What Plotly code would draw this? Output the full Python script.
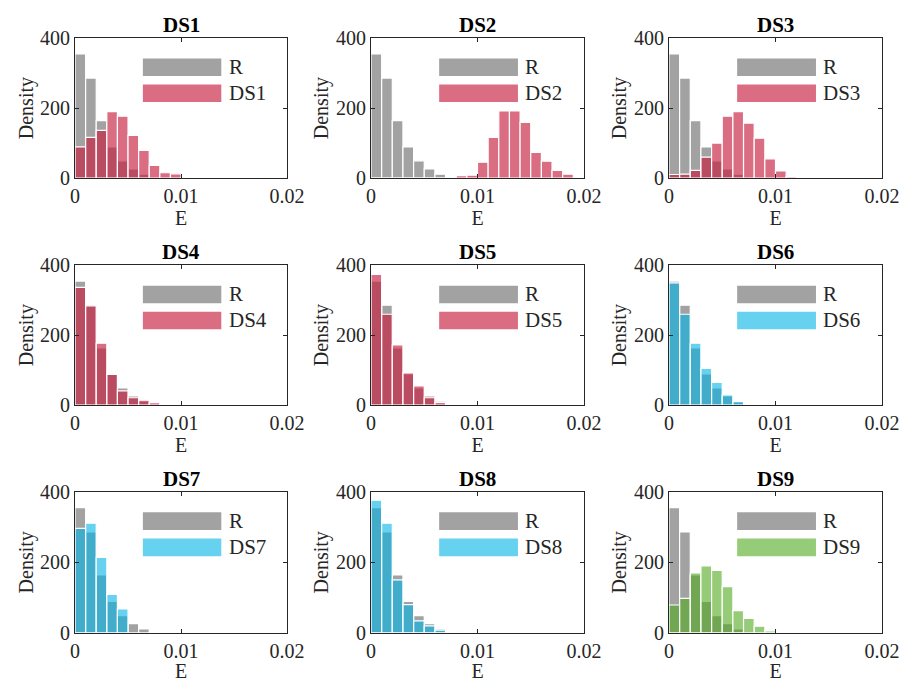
import numpy as np
import plotly.graph_objects as go

# ---------------- data ----------------
BIN_WIDTH = 0.001
R_density = [355, 286, 164, 89, 49, 26, 11, 2]
DS1 = [89, 116, 136, 190, 177, 122, 79, 36, 15, 12]
DS2 = [0, 0, 0, 0, 0, 0, 0, 0, 7, 8, 45, 116, 192, 192, 159, 73, 48, 22, 11]
DS3 = [10, 11, 22, 60, 100, 177, 190, 157, 114, 55, 20, 4]
DS4 = [337, 284, 177, 88, 41, 21, 14, 7, 3, 2]
DS5 = [374, 260, 172, 92, 55, 21, 7, 3, 2]
DS6 = [350, 260, 177, 105, 65, 29, 10]
DS7 = [296, 311, 214, 109, 68]
DS8 = [376, 311, 150, 80, 34, 20, 8, 1, 3]
DS9 = [79, 98, 170, 190, 177, 131, 63, 41, 19, 6]

names = ["DS1", "DS2", "DS3", "DS4", "DS5", "DS6", "DS7", "DS8", "DS9"]
series = [DS1, DS2, DS3, DS4, DS5, DS6, DS7, DS8, DS9]
x_ticks = [0, 0.01, 0.02]
x_ticktext = ["0", "0.01", "0.02"]
y_ticks = [0, 200, 400]
y_ticktext = ["0", "200", "400"]

# ---------------- styles ----------------
GRAY = "rgba(100,100,100,0.6)"
RED = "rgba(200,30,65,0.65)"
CYAN = "rgba(0,180,230,0.6)"
GREEN = "rgba(80,170,30,0.6)"
colors = [RED, RED, RED, RED, RED, CYAN, CYAN, CYAN, GREEN]
FONT = "Liberation Serif, Times New Roman, serif"
AXC = "#262626"

col_dom = [(0.0830, 0.3175), (0.4104, 0.6460), (0.7400, 0.9757)]
row_dom = [(0.739, 0.944), (0.406, 0.611), (0.072, 0.279)]

fig = go.Figure()
layout = dict(
    width=904, height=682,
    margin=dict(l=0, r=0, t=0, b=0, autoexpand=False),
    paper_bgcolor="white", plot_bgcolor="white",
    barmode="overlay", showlegend=False,
    font=dict(family=FONT, size=20, color=AXC),
)
shapes = []
annotations = []


def centers(vals):
    return [(i + 0.5) * BIN_WIDTH for i in range(len(vals))]


for k in range(9):
    r, c = divmod(k, 3)
    idx = "" if k == 0 else str(k + 1)
    xa, ya = "x" + idx, "y" + idx
    fig.add_trace(go.Bar(
        x=centers(R_density), y=R_density, width=BIN_WIDTH,
        marker=dict(color=GRAY, line=dict(color="white", width=1.2)),
        xaxis=xa, yaxis=ya, name="R"))
    fig.add_trace(go.Bar(
        x=centers(series[k]), y=series[k], width=BIN_WIDTH,
        marker=dict(color=colors[k], line=dict(color="white", width=1.2)),
        xaxis=xa, yaxis=ya, name=names[k]))

    layout["xaxis" + idx] = dict(
        domain=list(col_dom[c]), anchor=ya, range=[0, 0.02],
        tickvals=x_ticks, ticktext=x_ticktext, ticks="inside", ticklen=4,
        tickcolor=AXC, showline=True, linecolor=AXC, linewidth=1,
        mirror="ticks", showgrid=False, zeroline=False, automargin=False,
        tickfont=dict(family=FONT, size=20, color=AXC),
        title=dict(text="E", standoff=2, font=dict(family=FONT, size=20, color=AXC)),
    )
    layout["yaxis" + idx] = dict(
        domain=list(row_dom[r]), anchor=xa, range=[0, 400],
        tickvals=y_ticks, ticktext=y_ticktext, ticks="inside", ticklen=4,
        tickcolor=AXC, showline=True, linecolor=AXC, linewidth=1,
        mirror="ticks", showgrid=False, zeroline=False, automargin=False,
        tickfont=dict(family=FONT, size=20, color=AXC),
        title=dict(text="Density", standoff=1, font=dict(family=FONT, size=20, color=AXC)),
    )
    # title
    annotations.append(dict(
        text="<b>" + names[k] + "</b>", xref=xa + " domain", yref=ya + " domain",
        x=0.5, y=1.0, xanchor="center", yanchor="bottom", yshift=-1,
        showarrow=False, font=dict(family=FONT, size=21, color="black")))
    # legend patches
    for j, (lab, col) in enumerate([("R", GRAY), (names[k], colors[k])]):
        y0 = 0.729 - j * 0.186
        shapes.append(dict(
            type="rect", xref=xa + " domain", yref=ya + " domain",
            x0=0.32, x1=0.69, y0=y0, y1=y0 + 0.125,
            fillcolor=col, line=dict(width=0)))
        annotations.append(dict(
            text=lab, xref=xa + " domain", yref=ya + " domain",
            x=0.715, y=y0 + 0.0625, xanchor="left", yanchor="middle",
            showarrow=False, font=dict(family=FONT, size=21, color=AXC)))

layout["shapes"] = shapes
layout["annotations"] = annotations
fig.update_layout(**layout)
fig.write_html("out.html")
